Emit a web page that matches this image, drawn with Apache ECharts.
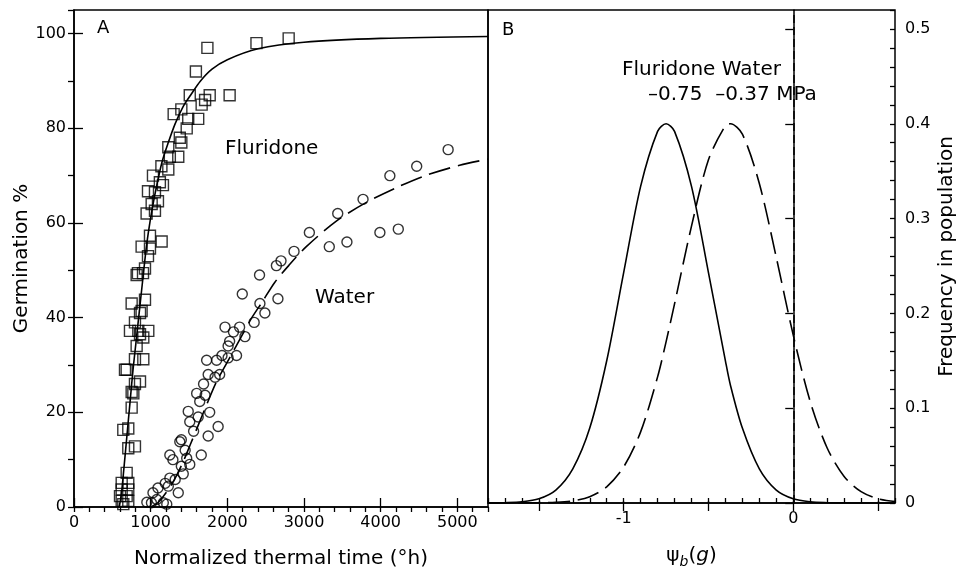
<!DOCTYPE html>
<html><head><meta charset="utf-8">
<script src="https://cdn.jsdelivr.net/npm/echarts@6/dist/echarts.min.js"></script>
<style>html,body{margin:0;padding:0;background:#fff}#c{width:963px;height:574px}</style>
</head><body><div id="c"></div>
<script>
// Panel A: germination (%) vs normalized thermal time (°h)
const fluridonePoints = [
  [2800,99],[2380,98],[1740,97],[1590,92],[2030,87],[1510,87],[1770,87],[1710,86],[1665,85],
  [1300,83],[1400,84],[1490,82],[1620,82],[1470,80],[1380,78],[1400,77],[1230,76],[1360,74],
  [1250,74],[1140,72],[1230,71.3],[1030,70],[1120,68.6],[1160,68],[965,66.7],[1056,66.5],
  [1095,64.6],[1013,64],[947,62],[1056,62.6],[991,57.3],[1143,56.1],[882,55],[991,54.6],
  [965,53],[834,49.4],[900,49.4],[926,50.4],[817,49],[752,43],[926,43.8],[882,41.4],[861,41],
  [795,39],[730,37.2],[839,37.2],[969,37.2],[904,35.8],[861,36.5],[817,34],[904,31.2],[795,31.2],
  [665,29],[687,29],[795,26],[861,26.5],[774,24],[752,24.3],[752,21],[643,16.3],[708,16.6],
  [708,12.4],[795,12.8],[687,7.2],[622,5.1],[708,5.1],[622,3.7],[708,3.7],[600,2.3],[687,2.3],
  [622,1.3],[643,0.6],[708,1.3]
];
const waterPoints = [
  [4880,75.5],[4470,72],[4120,70],[3770,65],[3440,62],[3070,58],[4230,58.7],[3990,58],[3560,56],
  [3330,55],[2870,54],[2700,52],[2640,51],[2420,49],[2195,45],[2660,44],[2425,43],[2490,41],
  [2350,39],[1970,38],[2160,38],[2080,37],[2230,36],[2030,35],[2010,34],[1730,31],[1860,31],
  [2120,32],[1930,32],[2010,31.5],[1750,28],[1900,28],[1840,27.4],[1690,26],[1600,24],[1710,23.6],
  [1640,22.3],[1770,20],[1490,20.2],[1620,19],[1510,18],[1880,17],[1560,16],[1750,15],[1400,14.2],
  [1380,13.8],[1450,12],[1660,11],[1250,11],[1290,10],[1470,10.3],[1510,9],[1400,8.6],[1425,7],
  [1250,6.1],[1320,5.8],[1190,5],[1230,4.4],[1360,3],[1095,4],[1030,3],[1080,1.6],[1165,0.9],
  [1010,0.9],[950,1],[1210,0.6]
];
const fluridoneFitA = [
  [590,0],[620,3],[650,8],[690,15],[730,22],[770,29],[810,35],[850,41],[890,47],[930,53],[970,58],
  [1020,63],[1080,68],[1150,73],[1230,77],[1320,81],[1420,84.5],[1520,87],[1650,90],[1800,92.5],
  [2000,94.5],[2400,96.8],[3000,98.2],[4000,99],[5400,99.4]
];
const waterFitA = [
  [1000,0],[1100,1],[1200,3],[1300,5.5],[1425,9.6],[1520,13.3],[1621,17.3],[1740,22],[1860,26.5],
  [2030,31.5],[2200,36.5],[2320,40],[2450,43.2],[2620,47.5],[2800,51],[3030,55],[3430,60.5],
  [3820,64.4],[4210,67.5],[4580,70],[5030,72.2],[5400,73.5]
];
// Panel B: frequency in population vs psi_b(g)
const psiValues = [-1.8,-1.7,-1.6,-1.5,-1.4,-1.3,-1.2,-1.1,-1.0,-0.9,-0.8,-0.75,-0.7,-0.6,-0.5,-0.4,-0.37,-0.3,-0.2,-0.1,0,0.1,0.2,0.3,0.4,0.5,0.6];
const fluridoneFreq = [0.0001,0.0003,0.0012,0.0044,0.0136,0.036,0.079,0.15,0.243,0.334,0.392,0.4,0.392,0.334,0.243,0.15,0.124,0.079,0.036,0.0136,0.0044,0.0012,0.0003,0.0001,0,0,0];
const waterFreq = [0,0,0.0001,0.0002,0.0007,0.0023,0.0067,0.017,0.038,0.075,0.133,0.17,0.21,0.292,0.362,0.398,0.4,0.389,0.337,0.259,0.177,0.107,0.058,0.028,0.012,0.0045,0.0015];
const zeroLine = 0;

const FONT = 'DejaVu Sans';
const BLK = '#000';
const pair = (xs, ys) => xs.map((x, i) => [x, ys[i]]);

const chart = echarts.init(document.getElementById('c'), null, {renderer: 'canvas'});
const tickLbl = {color: BLK, fontFamily: FONT, fontSize: 16};
const nameStyle = {color: BLK, fontFamily: FONT, fontSize: 20};
const line = {lineStyle: {color: BLK, width: 1.5}};

chart.setOption({
  animation: false,
  backgroundColor: '#fff',
  grid: [
    {left: 74, right: 475, top: 10, bottom: 63, show: true, borderColor: BLK, borderWidth: 1.5, backgroundColor: 'transparent'},
    {left: 488, right: 68, top: 10, bottom: 63, show: true, borderColor: BLK, borderWidth: 1.5, backgroundColor: 'transparent'},
    {left: 538.875, right: 84.96, top: 10, bottom: 63}
  ],
  xAxis: [
    {gridIndex: 0, type: 'value', min: 0, max: 5400, interval: 1000,
     axisLine: line, axisTick: {inside: true, length: 9, lineStyle: {color: BLK, width: 1.3}},
     axisLabel: Object.assign({margin: 8, showMaxLabel: false, formatter: v => (v % 1000 === 0 ? String(v) : '')}, tickLbl),
     splitLine: {show: false},
     name: 'Normalized thermal time (°h)', nameLocation: 'middle', nameGap: 42, nameTextStyle: nameStyle},
    {gridIndex: 0, type: 'value', min: 0, max: 5400, interval: 200,
     axisLine: {show: false}, axisTick: {inside: true, length: 5, lineStyle: {color: BLK, width: 1.3}},
     axisLabel: {show: false}, splitLine: {show: false}},
    {gridIndex: 1, type: 'value', min: -1.8, max: 0.6, interval: 0.1,
     axisLine: line, axisTick: {inside: true, length: 5, lineStyle: {color: BLK, width: 1.3}},
     axisLabel: Object.assign({margin: 8, formatter: v => { const r = Math.round(v * 10) / 10; return (r === -1 || r === 0) ? String(r) : ''; }}, tickLbl),
     splitLine: {show: false},
     name: '{p|ψ}{s|b}{p|(}{i|g}{p|)}', nameLocation: 'middle', nameGap: 40,
     nameTextStyle: {color: BLK, fontFamily: FONT, fontSize: 20, rich: {
       p: {fontFamily: FONT, fontSize: 20, color: BLK},
       s: {fontFamily: FONT, fontSize: 14, fontStyle: 'italic', color: BLK, verticalAlign: 'bottom', padding: [12, 0, 0, 0]},
       i: {fontFamily: FONT, fontSize: 20, fontStyle: 'italic', color: BLK}}}},
    {gridIndex: 2, type: 'value', min: -1.5, max: 0.5, interval: 0.5,
     axisLine: {show: false}, axisTick: {inside: true, length: 10, lineStyle: {color: BLK, width: 1.3}},
     axisLabel: {show: false}, splitLine: {show: false}}
  ],
  yAxis: [
    {gridIndex: 0, type: 'value', min: 0, max: 105, interval: 20,
     axisLine: line, axisTick: {inside: true, length: 9, lineStyle: {color: BLK, width: 1.3}},
     axisLabel: Object.assign({margin: 8, showMaxLabel: false}, tickLbl), splitLine: {show: false},
     name: 'Germination %', nameLocation: 'middle', nameRotate: 90, nameGap: 42, nameTextStyle: nameStyle},
    {gridIndex: 0, type: 'value', min: 0, max: 105, interval: 10,
     axisLine: {show: false}, axisTick: {inside: true, length: 6, lineStyle: {color: BLK, width: 1.3}},
     axisLabel: {show: false}, splitLine: {show: false}},
    {gridIndex: 1, type: 'value', position: 'right', min: 0, max: 0.52, interval: 0.1,
     axisLine: line, axisTick: {inside: true, length: 8, lineStyle: {color: BLK, width: 1.3}},
     axisLabel: Object.assign({margin: 10, showMaxLabel: false}, tickLbl), splitLine: {show: false},
     name: 'Frequency in population', nameLocation: 'middle', nameRotate: 90, nameGap: 42, nameTextStyle: nameStyle},
    {gridIndex: 1, type: 'value', position: 'right', min: 0, max: 0.52, interval: 0.02,
     axisLine: {show: false}, axisTick: {inside: true, length: 5, lineStyle: {color: BLK, width: 1.3}},
     axisLabel: {show: false}, splitLine: {show: false}},
    {gridIndex: 2, type: 'value', show: false, min: 0, max: 1}
  ],
  series: [
    {type: 'scatter', xAxisIndex: 0, yAxisIndex: 0, data: fluridonePoints, symbol: 'rect', symbolSize: 11,
     itemStyle: {color: 'transparent', borderColor: BLK, borderWidth: 1.4}, z: 3},
    {type: 'scatter', xAxisIndex: 0, yAxisIndex: 0, data: waterPoints, symbol: 'circle', symbolSize: 10,
     itemStyle: {color: 'transparent', borderColor: BLK, borderWidth: 1.4}, z: 3},
    {type: 'line', xAxisIndex: 0, yAxisIndex: 0, data: fluridoneFitA, smooth: 0.3, showSymbol: false,
     lineStyle: {color: BLK, width: 1.6}, z: 4},
    {type: 'line', xAxisIndex: 0, yAxisIndex: 0, data: waterFitA, smooth: 0.3, showSymbol: false,
     lineStyle: {color: BLK, width: 1.6, type: [22, 8]}, z: 4},
    {type: 'line', xAxisIndex: 2, yAxisIndex: 2, data: pair(psiValues, fluridoneFreq), smooth: 0.3, showSymbol: false,
     lineStyle: {color: BLK, width: 1.6}, z: 4,
     markLine: {silent: true, symbol: 'none', label: {show: false},
       lineStyle: {color: BLK, width: 1.5, type: [8, 4]}, data: [{xAxis: zeroLine}]}},
    {type: 'line', xAxisIndex: 2, yAxisIndex: 2, data: pair(psiValues, waterFreq), smooth: 0.3, showSymbol: false,
     lineStyle: {color: BLK, width: 1.6, type: [22, 8]}, z: 4}
  ],
  graphic: [
    {type: 'text', left: 97, top: 19, style: {text: 'A', font: '18px "DejaVu Sans"', fill: BLK}},
    {type: 'text', left: 502, top: 21, style: {text: 'B', font: '18px "DejaVu Sans"', fill: BLK}},
    {type: 'text', left: 225, top: 139, style: {text: 'Fluridone', font: '20px "DejaVu Sans"', fill: BLK}},
    {type: 'text', left: 315, top: 288, style: {text: 'Water', font: '20px "DejaVu Sans"', fill: BLK}},
    {type: 'text', left: 622, top: 60, style: {text: 'Fluridone Water', font: '20px "DejaVu Sans"', fill: BLK}},
    {type: 'text', left: 648, top: 85, style: {text: '–0.75  –0.37 MPa', font: '20px "DejaVu Sans"', fill: BLK}}
  ]
});
</script>
</body></html>
